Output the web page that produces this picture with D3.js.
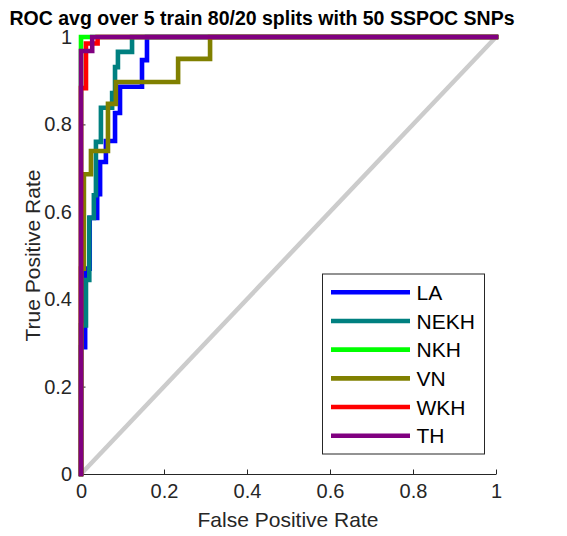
<!DOCTYPE html>
<html>
<head>
<meta charset="utf-8">
<script src="https://cdn.jsdelivr.net/npm/d3@7"></script>
<style>
  html, body { margin: 0; padding: 0; background: #fff; }
  svg { display: block; font-family: "Liberation Sans", Arial, Helvetica, sans-serif; }
</style>
</head>
<body>
<svg id="chart" width="567" height="536"></svg>
<script>
// ---- Data ----
const seriesNames = ["LA", "NEKH", "NKH", "VN", "WKH", "TH"];
const seriesColors = ["#0000ff", "#008080", "#00ff00", "#808000", "#ff0000", "#800080"];

const LA = [[0,0],[0,0.29],[0.01,0.29],[0.01,0.47],[0.021,0.47],[0.021,0.586],[0.039,0.586],[0.039,0.64],[0.046,0.64],[0.046,0.714],[0.06,0.714],[0.06,0.762],[0.082,0.762],[0.082,0.826],[0.094,0.826],[0.094,0.886],[0.147,0.886],[0.147,0.947],[0.159,0.947],[0.159,1],[1,1]];
const NEKH = [[0,0],[0,0.34],[0.012,0.34],[0.012,0.444],[0.02,0.444],[0.02,0.586],[0.031,0.586],[0.031,0.638],[0.036,0.638],[0.036,0.76],[0.048,0.76],[0.048,0.838],[0.075,0.838],[0.075,0.872],[0.082,0.872],[0.082,0.931],[0.089,0.931],[0.089,0.966],[0.123,0.966],[0.123,1],[1,1]];
const NKH = [[0,0],[0,1],[1,1]];
const VN = [[0,0],[0,0.47],[0.007,0.47],[0.007,0.686],[0.024,0.686],[0.024,0.739],[0.065,0.739],[0.065,0.847],[0.084,0.847],[0.084,0.897],[0.234,0.897],[0.234,0.95],[0.311,0.95],[0.311,1],[1,1]];
const WKH = [[0,0],[0,0.883],[0.012,0.883],[0.012,0.985],[0.04,0.985],[0.04,1],[1,1]];
const TH = [[0,0],[0,0.968],[0.027,0.968],[0.027,1],[1,1]];
const chance = [[0,0],[1,1]];

const xTicks = [0, 0.2, 0.4, 0.6, 0.8, 1];
const yTicks = [0, 0.2, 0.4, 0.6, 0.8, 1];
const xTickLabels = ["0", "0.2", "0.4", "0.6", "0.8", "1"];
const yTickLabels = ["0", "0.2", "0.4", "0.6", "0.8", "1"];

const titleText = "ROC avg over 5 train 80/20 splits with 50 SSPOC SNPs";
const xLabelText = "False Positive Rate";
const yLabelText = "True Positive Rate";

// ---- Layout ----
const axisColor = "#262626";
const pLeft = 81, pRight = 496, pTop = 37, pBottom = 474;
const svg = d3.select("#chart");

const x = d3.scaleLinear().domain([0, 1]).range([pLeft, pRight]);
const y = d3.scaleLinear().domain([0, 1]).range([pBottom, pTop]);

const line = d3.line().x(d => x(d[0])).y(d => y(d[1]));

// chance line
svg.append("path").datum(chance)
  .attr("d", line).attr("fill", "none")
  .attr("stroke", "#cccccc").attr("stroke-width", 4.5);

// axes
const xAxis = d3.axisBottom(x).tickValues(xTicks).tickFormat((d, i) => xTickLabels[i])
  .tickSizeInner(-4.5).tickSizeOuter(0).tickPadding(10);
const gx = svg.append("g").attr("transform", `translate(0,${pBottom})`).call(xAxis);
const yAxis = d3.axisLeft(y).tickValues(yTicks).tickFormat((d, i) => yTickLabels[i])
  .tickSizeInner(-4.5).tickSizeOuter(0).tickPadding(9);
const gy = svg.append("g").attr("transform", `translate(${pLeft},0)`).call(yAxis);
[gx, gy].forEach(g => {
  g.select(".domain").attr("stroke", axisColor).attr("stroke-width", 1);
  g.selectAll(".tick line").attr("stroke", axisColor).attr("stroke-width", 1);
  g.selectAll(".tick text").attr("fill", axisColor)
    .style("font-size", "20px").style("font-family", "'Liberation Sans', Arial, sans-serif");
});
gx.selectAll(".tick text").attr("dy", "0.68em");

// curves
const allSeries = [LA, NEKH, NKH, VN, WKH, TH];
allSeries.forEach((data, i) => {
  svg.append("path").datum(data)
    .attr("d", line).attr("fill", "none")
    .attr("stroke", seriesColors[i]).attr("stroke-width", 4.6)
    .attr("stroke-linejoin", "miter").attr("stroke-linecap", "square");
});

// title
svg.append("text").attr("x", 262).attr("y", 25)
  .attr("text-anchor", "middle").attr("font-weight", "bold")
  .style("font-size", "19.5px").attr("fill", "#000").text(titleText);

// axis labels
svg.append("text").attr("x", 288).attr("y", 527)
  .attr("text-anchor", "middle").style("font-size", "21px").attr("fill", axisColor).text(xLabelText);
svg.append("text").attr("transform", `translate(40,${(pTop + pBottom) / 2}) rotate(-90)`)
  .attr("text-anchor", "middle").style("font-size", "21px").attr("fill", axisColor).text(yLabelText);

// legend
const lg = svg.append("g");
lg.append("rect").attr("x", 322.5).attr("y", 274).attr("width", 162).attr("height", 180)
  .attr("fill", "#fff").attr("stroke", axisColor).attr("stroke-width", 1);
const rowY = d3.scaleLinear().domain([0, seriesNames.length - 1]).range([292.3, 435.7]);
seriesNames.forEach((name, i) => {
  lg.append("line").attr("x1", 331).attr("x2", 410)
    .attr("y1", rowY(i)).attr("y2", rowY(i))
    .attr("stroke", seriesColors[i]).attr("stroke-width", 4.6);
  lg.append("text").attr("x", 416.5).attr("y", rowY(i)).attr("dy", "0.36em")
    .style("font-size", "21px").attr("fill", "#000").text(name);
});
</script>
</body>
</html>
